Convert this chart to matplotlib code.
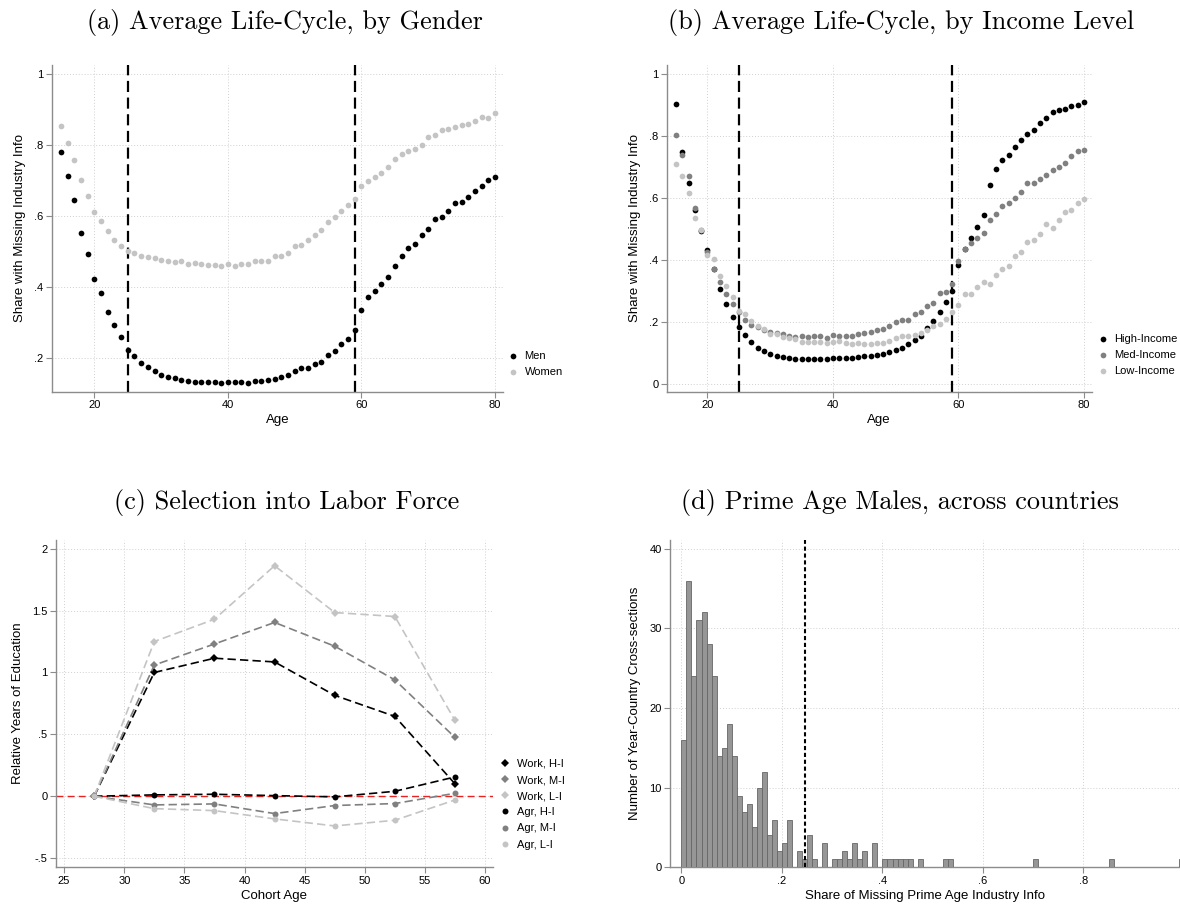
import numpy as np
import matplotlib
matplotlib.use("Agg")
import matplotlib.pyplot as plt
from matplotlib.lines import Line2D
from matplotlib.ticker import FuncFormatter

plt.rcParams['font.family'] = ['Liberation Sans', 'DejaVu Sans']

# ---- (a) life-cycle by gender ----
ages = np.arange(15, 81)
men = [0.781, 0.714, 0.645, 0.553, 0.495, 0.422, 0.385, 0.331, 0.293, 0.261,
       0.223, 0.207, 0.186, 0.176, 0.163, 0.153, 0.148, 0.144, 0.138, 0.136,
       0.134, 0.134, 0.134, 0.134, 0.130, 0.134, 0.134, 0.134, 0.131, 0.136,
       0.137, 0.139, 0.142, 0.146, 0.152, 0.163, 0.172, 0.172, 0.183, 0.189,
       0.208, 0.222, 0.240, 0.254, 0.280, 0.336, 0.374, 0.389, 0.410, 0.428,
       0.460, 0.488, 0.512, 0.523, 0.546, 0.565, 0.593, 0.599, 0.615, 0.637,
       0.639, 0.653, 0.671, 0.685, 0.702, 0.710]
women = [0.854, 0.807, 0.758, 0.701, 0.658, 0.611, 0.586, 0.558, 0.533, 0.516,
         0.502, 0.496, 0.488, 0.485, 0.483, 0.478, 0.473, 0.470, 0.473, 0.467,
         0.469, 0.465, 0.463, 0.463, 0.461, 0.466, 0.460, 0.465, 0.465, 0.473,
         0.473, 0.474, 0.487, 0.487, 0.497, 0.517, 0.519, 0.534, 0.546, 0.561,
         0.584, 0.597, 0.614, 0.633, 0.650, 0.686, 0.700, 0.712, 0.722, 0.739,
         0.762, 0.775, 0.784, 0.790, 0.801, 0.822, 0.830, 0.843, 0.846, 0.852,
         0.858, 0.860, 0.867, 0.879, 0.876, 0.890]

# ---- (b) life-cycle by income level ----
high_inc = [0.905, 0.750, 0.650, 0.561, 0.494, 0.432, 0.371, 0.305, 0.258, 0.217,
            0.182, 0.156, 0.134, 0.115, 0.106, 0.096, 0.089, 0.086, 0.083, 0.081,
            0.081, 0.081, 0.080, 0.080, 0.081, 0.082, 0.082, 0.083, 0.083, 0.087,
            0.088, 0.091, 0.092, 0.096, 0.103, 0.110, 0.116, 0.128, 0.140, 0.154,
            0.180, 0.204, 0.230, 0.264, 0.301, 0.385, 0.434, 0.472, 0.505, 0.545,
            0.641, 0.694, 0.723, 0.739, 0.766, 0.787, 0.807, 0.820, 0.842, 0.860,
            0.877, 0.884, 0.888, 0.897, 0.902, 0.909]
med_inc = [0.804, 0.740, 0.672, 0.568, 0.496, 0.427, 0.372, 0.330, 0.289, 0.258,
           0.233, 0.206, 0.191, 0.182, 0.173, 0.168, 0.163, 0.159, 0.154, 0.152,
           0.154, 0.152, 0.155, 0.155, 0.148, 0.156, 0.153, 0.155, 0.155, 0.159,
           0.164, 0.167, 0.172, 0.178, 0.185, 0.200, 0.207, 0.207, 0.224, 0.230,
           0.252, 0.262, 0.292, 0.295, 0.321, 0.398, 0.434, 0.455, 0.472, 0.487,
           0.528, 0.548, 0.573, 0.583, 0.599, 0.621, 0.649, 0.650, 0.663, 0.673,
           0.690, 0.699, 0.713, 0.735, 0.752, 0.755]
low_inc = [0.711, 0.671, 0.615, 0.534, 0.496, 0.417, 0.404, 0.347, 0.316, 0.281,
           0.234, 0.225, 0.202, 0.186, 0.176, 0.162, 0.159, 0.150, 0.149, 0.145,
           0.136, 0.136, 0.134, 0.134, 0.131, 0.134, 0.137, 0.130, 0.128, 0.131,
           0.128, 0.128, 0.130, 0.133, 0.138, 0.147, 0.155, 0.155, 0.158, 0.164,
           0.173, 0.186, 0.193, 0.208, 0.231, 0.253, 0.289, 0.289, 0.311, 0.328,
           0.322, 0.350, 0.371, 0.380, 0.412, 0.427, 0.457, 0.464, 0.484, 0.517,
           0.502, 0.528, 0.554, 0.561, 0.583, 0.596]
prime_age = [25, 59]

# ---- (c) selection into labor force ----
cohort_age = [27.5, 32.5, 37.5, 42.5, 47.5, 52.5, 57.5]
work_hi = [0.0, 1.000, 1.115, 1.085, 0.815, 0.645, 0.100]
work_mi = [0.0, 1.060, 1.230, 1.404, 1.212, 0.940, 0.475]
work_li = [0.0, 1.250, 1.430, 1.862, 1.484, 1.452, 0.612]
agr_hi = [0.0, 0.011, 0.016, 0.005, -0.005, 0.040, 0.156]
agr_mi = [0.0, -0.070, -0.062, -0.140, -0.075, -0.059, 0.024]
agr_li = [0.0, -0.100, -0.116, -0.183, -0.240, -0.194, -0.030]

# ---- (d) histogram across countries (bins of width .01) ----
bin_left = [0.00, 0.01, 0.02, 0.03, 0.04, 0.05, 0.06, 0.07, 0.08, 0.09,
            0.10, 0.11, 0.12, 0.13, 0.14, 0.15, 0.16, 0.17, 0.18, 0.19,
            0.20, 0.21, 0.23, 0.24, 0.25, 0.26, 0.28, 0.30, 0.31, 0.32,
            0.33, 0.34, 0.35, 0.36, 0.38, 0.40, 0.41, 0.42, 0.43, 0.44,
            0.45, 0.47, 0.52, 0.53, 0.70, 0.85, 0.99]
bin_count = [16, 36, 24, 31, 32, 28, 24, 14, 15, 18,
             14, 9, 7, 8, 5, 10, 12, 4, 6, 2,
             3, 6, 2, 1, 4, 1, 3, 1, 1, 2,
             1, 3, 1, 2, 3, 1, 1, 1, 1, 1,
             1, 1, 1, 1, 1, 1, 1]
bin_width = 0.01
cutoff = 0.245

BLACK = '#000000'
MID = '#808080'
LIGHT = '#c4c4c4'
AXIS_GREY = '#8c8c8c'


def stata_fmt(v, pos=None):
    s = ('%g' % round(v, 6))
    if s.startswith('0.'):
        s = s[1:]
    elif s.startswith('-0.'):
        s = '-' + s[2:]
    return s


def style(ax):
    for side in ('top', 'right'):
        ax.spines[side].set_visible(False)
    for side in ('left', 'bottom'):
        ax.spines[side].set_color(AXIS_GREY)
        ax.spines[side].set_linewidth(1.0)
    ax.tick_params(axis='both', which='major', length=4, width=0.8,
                   color=AXIS_GREY, labelsize=8, pad=2)
    ax.grid(True, linestyle=(0, (1, 2)), color='#d0d0d0', linewidth=0.7)
    ax.set_axisbelow(True)
    ax.yaxis.set_major_formatter(FuncFormatter(stata_fmt))
    ax.xaxis.set_major_formatter(FuncFormatter(stata_fmt))


def title(x, y, text):
    fig.text(x, y, text, ha='center', va='center', fontsize=18.9,
             family='cmr10')


W, H = 1180, 907
fig = plt.figure(figsize=(W / 100, H / 100), dpi=100)


def box(l, r, t, b):
    return [l / W, 1 - b / H, (r - l) / W, (b - t) / H]


leg_kw = dict(frameon=False, fontsize=8, handlelength=0.8, handletextpad=0.6,
              labelspacing=0.55, borderpad=0, borderaxespad=0,
              loc='upper left', bbox_transform=fig.transFigure)

# (a)
ax = fig.add_axes(box(51.7, 503, 65, 391.7))
style(ax)
ax.scatter(ages, men, s=17, color=BLACK, label='Men', zorder=3, linewidths=0)
ax.scatter(ages, women, s=17, color=LIGHT, label='Women', zorder=3, linewidths=0)
for a in prime_age:
    ax.axvline(a, color=BLACK, linestyle=(0, (5, 2.5)), linewidth=1.6, zorder=2)
ax.set_xlim(13.6, 81.2)
ax.set_ylim(0.106, 1.026)
ax.set_xticks([20, 40, 60, 80])
ax.set_yticks([0.2, 0.4, 0.6, 0.8, 1.0])
ax.set_xlabel('Age', fontsize=9.5, labelpad=3)
ax.set_ylabel('Share with Missing Industry Info', fontsize=9.5, labelpad=6)
ax.legend(bbox_to_anchor=(509 / W, 1 - 351 / H), **leg_kw)
title(285 / W, 1 - 23 / H, '(a) Average Life-Cycle, by Gender')

# (b)
ax = fig.add_axes(box(666.7, 1091.5, 65, 391.7))
style(ax)
ax.scatter(ages, high_inc, s=17, color=BLACK, label='High-Income', zorder=3, linewidths=0)
ax.scatter(ages, med_inc, s=17, color=MID, label='Med-Income', zorder=3, linewidths=0)
ax.scatter(ages, low_inc, s=17, color=LIGHT, label='Low-Income', zorder=3, linewidths=0)
for a in prime_age:
    ax.axvline(a, color=BLACK, linestyle=(0, (5, 2.5)), linewidth=1.6, zorder=2)
ax.set_xlim(13.5, 81.2)
ax.set_ylim(-0.026, 1.03)
ax.set_xticks([20, 40, 60, 80])
ax.set_yticks([0, 0.2, 0.4, 0.6, 0.8, 1.0])
ax.set_xlabel('Age', fontsize=9.5, labelpad=3)
ax.set_ylabel('Share with Missing Industry Info', fontsize=9.5, labelpad=6)
ax.legend(bbox_to_anchor=(1099 / W, 1 - 334 / H), **leg_kw)
title(901 / W, 1 - 23 / H, '(b) Average Life-Cycle, by Income Level')

# (c)
ax = fig.add_axes(box(55.7, 493, 540, 867.3))
style(ax)
ax.axhline(0, color='#e8231f', linestyle=(0, (5, 3)), linewidth=1.0, zorder=2)
series = [
    (work_hi, BLACK, 'D', 'Work, H-I'),
    (work_mi, MID, 'D', 'Work, M-I'),
    (work_li, LIGHT, 'D', 'Work, L-I'),
    (agr_hi, BLACK, 'o', 'Agr, H-I'),
    (agr_mi, MID, 'o', 'Agr, M-I'),
    (agr_li, LIGHT, 'o', 'Agr, L-I'),
]
handles = []
for vals, col, mk, lab in series:
    ax.plot(cohort_age, vals, color=col, linestyle=(0, (5, 2.5)), linewidth=1.2,
            marker=mk, markersize=4.3, markeredgewidth=0, zorder=3)
    handles.append(Line2D([], [], color=col, linestyle='none', marker=mk,
                          markersize=4.3, markeredgewidth=0, label=lab))
ax.set_xlim(24.3, 60.66)
ax.set_ylim(-0.574, 2.07)
ax.set_xticks([25, 30, 35, 40, 45, 50, 55, 60])
ax.set_yticks([-0.5, 0, 0.5, 1.0, 1.5, 2.0])
ax.set_xlabel('Cohort Age', fontsize=9.5, labelpad=3)
ax.set_ylabel('Relative Years of Education', fontsize=9.5, labelpad=6)
ax.legend(handles=handles, bbox_to_anchor=(501 / W, 1 - 759 / H), **leg_kw)
title(287 / W, 1 - 502 / H, '(c) Selection into Labor Force')

# (d)
ax = fig.add_axes(box(670, 1180, 540, 867.3))
style(ax)
ax.bar(bin_left, bin_count, width=bin_width, align='edge', color='#969696',
       edgecolor='#666666', linewidth=0.6, zorder=3)
ax.axvline(cutoff, color=BLACK, linestyle=(0, (2, 1.3)), linewidth=1.5, zorder=4)
ax.set_xlim(-0.0227, 0.992)
ax.set_ylim(0, 41.1)
ax.set_xticks([0, 0.2, 0.4, 0.6, 0.8])
ax.set_yticks([0, 10, 20, 30, 40])
ax.set_xlabel('Share of Missing Prime Age Industry Info', fontsize=9.5, labelpad=3)
ax.set_ylabel('Number of Year-Country Cross-sections', fontsize=9.5, labelpad=6)
title(900 / W, 1 - 502 / H, '(d) Prime Age Males, across countries')

fig.savefig('out.png', dpi=100)
